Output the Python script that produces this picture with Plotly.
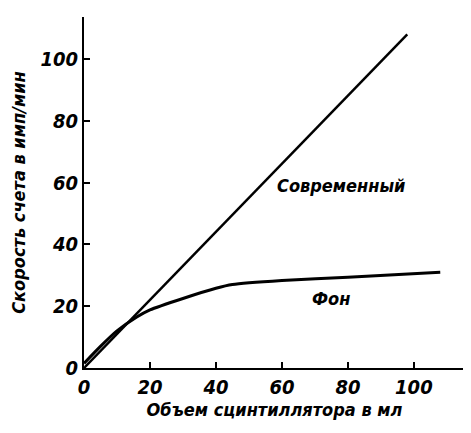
import plotly.graph_objects as go

# Data
modern_x = [0, 98]
modern_y = [0, 108]

bg_x = [0, 5, 10, 16, 20, 30, 40, 45, 60, 80, 108]
bg_y = [1.5, 7, 12, 16.5, 18.8, 22.5, 25.8, 27, 28.3, 29.4, 31]

x_ticks = [0, 20, 40, 60, 80, 100]
y_ticks = [0, 20, 40, 60, 80, 100]

FONT = "DejaVu Sans Condensed"

fig = go.Figure()
fig.add_trace(go.Scatter(x=modern_x, y=modern_y, mode="lines",
                         line=dict(color="black", width=2.5), showlegend=False))
fig.add_trace(go.Scatter(x=bg_x, y=bg_y, mode="lines",
                         line=dict(color="black", width=3, shape="spline", smoothing=0.6),
                         showlegend=False))

fig.add_annotation(x=78, y=59, text="Современный", showarrow=False,
                   font=dict(family=FONT, size=18, color="black", style="italic", weight="bold"))
fig.add_annotation(x=75, y=22.5, text="Фон", showarrow=False,
                   font=dict(family=FONT, size=18, color="black", style="italic", weight="bold"))

tickfont = dict(family=FONT, size=20, color="black", style="italic", weight="bold")
titlefont = dict(family=FONT, size=18, color="black", style="italic", weight="bold")

fig.update_layout(
    width=463, height=425,
    margin=dict(l=76, r=6, t=9, b=65),
    paper_bgcolor="white", plot_bgcolor="white",
    xaxis=dict(range=[0, 115.5], tickvals=x_ticks, ticks="inside", ticklen=6,
               tickwidth=2, tickcolor="black", showline=True, linecolor="black",
               linewidth=2, showgrid=False, zeroline=False, tickfont=tickfont,
               automargin=False,
               title=dict(text="Объем сцинтиллятора в мл", font=titlefont, standoff=2)),
    yaxis=dict(range=[0, 113.6], tickvals=y_ticks, ticks="inside", ticklen=6,
               tickwidth=2, tickcolor="black", showline=True, linecolor="black",
               linewidth=2, showgrid=False, zeroline=False, tickfont=tickfont,
               automargin=False,
               title=dict(text="Скорость счета в имп/мин", font=titlefont, standoff=14)),
)

fig.write_html("out.html")
